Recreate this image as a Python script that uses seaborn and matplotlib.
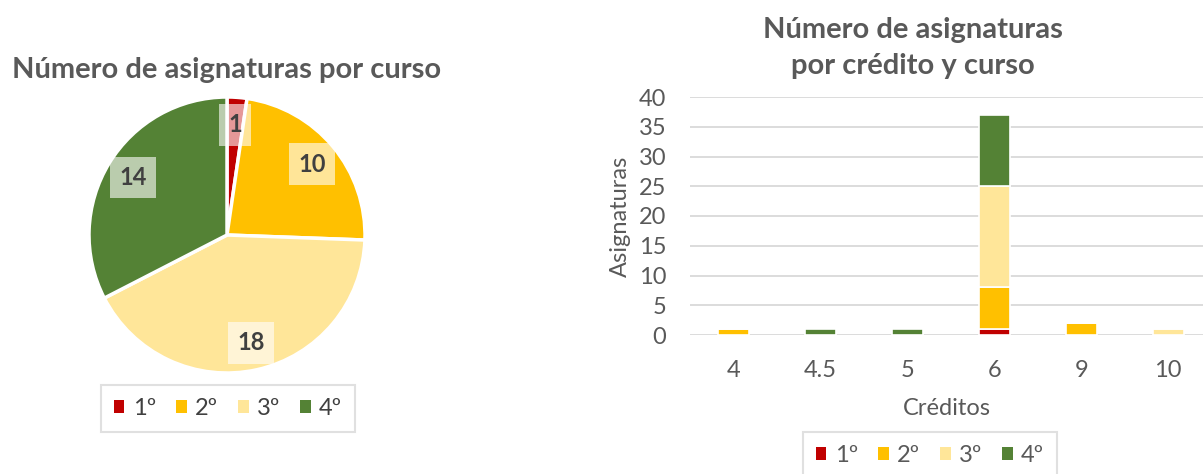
import matplotlib
matplotlib.use("Agg")
import numpy as np
import pandas as pd
import matplotlib.pyplot as plt
import seaborn as sns
from matplotlib.patches import Patch

# ── Datos ─────────────────────────────────────────────────────────────────────
cursos = ["1º", "2º", "3º", "4º"]
colores = ["#C00000", "#FFC000", "#FFE699", "#548235"]
asignaturas_curso = [1, 10, 18, 14]

creditos = ["4", "4.5", "5", "6", "9", "10"]
n_1 = [0, 0, 0, 1, 0, 0]
n_2 = [1, 0, 0, 7, 2, 0]
n_3 = [0, 0, 0, 17, 0, 1]
n_4 = [0, 1, 1, 12, 0, 0]

filas = []
for i, c in enumerate(creditos):
    for curso, serie in zip(cursos, [n_1, n_2, n_3, n_4]):
        filas.append({"creditos": c, "curso": curso, "n": serie[i]})
df = pd.DataFrame(filas)
df = df[df["n"] > 0]
df["creditos"] = pd.Categorical(df["creditos"], categories=creditos)

# ── Estilo ────────────────────────────────────────────────────────────────────
sns.set_theme(style="white")
plt.rcParams["font.family"] = ["Lato", "DejaVu Sans"]
GRIS = "#595959"
W, H = 1203, 474

fig = plt.figure(figsize=(W / 100, H / 100), dpi=100)

# ── Tarta ─────────────────────────────────────────────────────────────────────
cx, cy, r = 227, 235, 138
ax1 = fig.add_axes([(cx - r) / W, (H - cy - r) / H, 2 * r / W, 2 * r / H])
total = sum(asignaturas_curso)
wedges, texts, autotexts = ax1.pie(
    asignaturas_curso, colors=colores, startangle=90, counterclock=False,
    autopct=lambda p: f"{round(p * total / 100)}", pctdistance=0.8,
    wedgeprops=dict(edgecolor="white", linewidth=2.5),
    textprops=dict(fontsize=17, fontweight="bold", color="#404040"),
)
for t in autotexts:
    t.set_bbox(dict(boxstyle="square,pad=0.4", facecolor="white",
                    alpha=0.6, edgecolor="none"))
ax1.set_xlim(-1, 1)
ax1.set_ylim(-1, 1)

fig.text(cx / W, (H - 70) / H, "Número de asignaturas por curso",
         ha="center", va="center", fontsize=21, fontweight="bold", color=GRIS)

handles = [Patch(facecolor=c, edgecolor="none", label=l)
           for c, l in zip(colores, cursos)]
leg_kw = dict(ncol=4, frameon=True, fancybox=False, edgecolor="#D9D9D9",
              fontsize=17, handlelength=0.45, handleheight=0.45,
              columnspacing=0.85, handletextpad=0.35, borderpad=0.55,
              borderaxespad=0)
leg1 = fig.legend(handles=handles, loc="center",
                  bbox_to_anchor=(228 / W, (H - 408.5) / H),
                  labelcolor="#404040", **leg_kw)
leg1.get_frame().set_linewidth(1.5)

# ── Barras apiladas ───────────────────────────────────────────────────────────
top, bottom, left = 97, 335, 690
ax2 = fig.add_axes([left / W, (H - bottom) / H, (W - left) / W,
                    (bottom - top) / H])
sns.histplot(
    data=df, x="creditos", weights="n", hue="curso",
    hue_order=cursos[::-1], palette=dict(zip(cursos, colores)),
    multiple="stack", discrete=True, shrink=0.36, alpha=1,
    edgecolor="white", linewidth=1.2, legend=False, ax=ax2,
)
ax2.set_ylim(0, 40)
ax2.set_xlim(-0.5, 5.4)
ax2.set_yticks(np.arange(0, 41, 5))
ax2.yaxis.grid(True, color="#D9D9D9", linewidth=1.3)
ax2.set_axisbelow(True)
for s in ax2.spines.values():
    s.set_visible(False)
ax2.tick_params(axis="both", length=0, labelsize=17, labelcolor=GRIS)
ax2.tick_params(axis="y", pad=17)
ax2.tick_params(axis="x", pad=18)
ax2.set_xlabel("Créditos", fontsize=17, color=GRIS, labelpad=12)
ax2.set_ylabel("Asignaturas", fontsize=17, color=GRIS, labelpad=6)

fig.text(913 / W, (H - 48) / H, "Número de asignaturas\npor crédito y curso",
         ha="center", va="center", fontsize=21, fontweight="bold",
         color=GRIS, linespacing=1.5)

leg2 = fig.legend(handles=handles, loc="upper center",
                  bbox_to_anchor=(930 / W, (H - 432) / H),
                  labelcolor=GRIS, **leg_kw)
leg2.get_frame().set_linewidth(1.5)

fig.savefig("out.png", dpi=100)
